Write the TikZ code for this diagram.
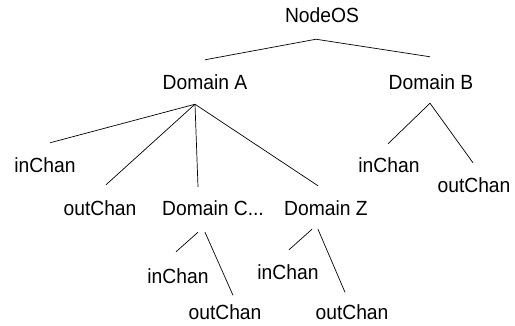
\documentclass[tikz,border=0pt]{standalone}
\usepackage{fontspec}
\setmainfont{Liberation Sans}[FakeStretch=0.94]
\usepackage{tikz}

\tikzset{
    lbl/.style={inner sep=0pt, font=\fontsize{20.5}{24}\selectfont},
    link/.style={line width=0.7pt}
}

\begin{document}
\begin{tikzpicture}[x=1pt, y=-1pt]
    \useasboundingbox (0, 0) rectangle (515, 325);

    \node[lbl] at (322, 15) (root) {NodeOS};
    \node[lbl] at (205, 82.5) (L1N1) {Domain A};
    \node[lbl] at (431, 82.5) (L1N2) {Domain B};
    \node[lbl] at (45, 165) (L2N1) {inChan};
    \node[lbl] at (100, 208) (L2N2) {outChan};
    \node[lbl] at (213, 208) (L2N3) {Domain C...};
    \node[lbl] at (326, 208) (L2N4) {Domain Z};
    \node[lbl] at (389, 165) (L2N5) {inChan};
    \node[lbl] at (474, 185) (L2N6) {outChan};
    \node[lbl] at (178, 276) (L3N1) {inChan};
    \node[lbl] at (225, 312) (L3N2) {outChan};
    \node[lbl] at (288, 272) (L3N3) {inChan};
    \node[lbl] at (352, 312) (L3N4) {outChan};

    % NodeOS
    \draw[link] ([xshift=-6pt, yshift=-16.5pt]root.south) -- ([yshift=15pt]L1N1.north);
    \draw[link] ([xshift=-6pt, yshift=-16.5pt]root.south) -- ([xshift=-1pt, yshift=18pt]L1N2.north);
    % Domain A
    \draw[link] ([xshift=-10pt, yshift=-14pt]L1N1.south) -- ([xshift=5pt, yshift=14.5pt]L2N1.north);
    \draw[link] ([xshift=-10pt, yshift=-14pt]L1N1.south) -- ([xshift=6pt, yshift=15.5pt]L2N2.north);
    \draw[link] ([xshift=-10pt, yshift=-14pt]L1N1.south) -- ([xshift=-15pt, yshift=13.5pt]L2N3.north);
    \draw[link] ([xshift=-10pt, yshift=-14pt]L1N1.south) -- ([xshift=-8pt, yshift=14.5pt]L2N4.north);
    % Domain B
    \draw[link] ([xshift=-1pt, yshift=-13pt]L1N2.south) -- ([xshift=-1pt, yshift=13.5pt]L2N5.north);
    \draw[link] ([xshift=-1pt, yshift=-13pt]L1N2.south) -- ([xshift=-1pt, yshift=14.5pt]L2N6.north);
    % Domain C
    \draw[link] ([xshift=-15pt, yshift=-16.5pt]L2N3.south) -- ([xshift=-2pt, yshift=16.5pt]L3N1.north);
    \draw[link] ([xshift=-8pt, yshift=-16.5pt]L2N3.south) -- ([xshift=8pt, yshift=9pt]L3N2.north);
    % Domain Z
    \draw[link] ([xshift=-14pt, yshift=-13.5pt]L2N4.south) -- ([xshift=1pt, yshift=14.5pt]L3N3.north);
    \draw[link] ([xshift=-8pt, yshift=-13.5pt]L2N4.south) -- ([xshift=-7pt, yshift=12pt]L3N4.north);
\end{tikzpicture}
\end{document}
